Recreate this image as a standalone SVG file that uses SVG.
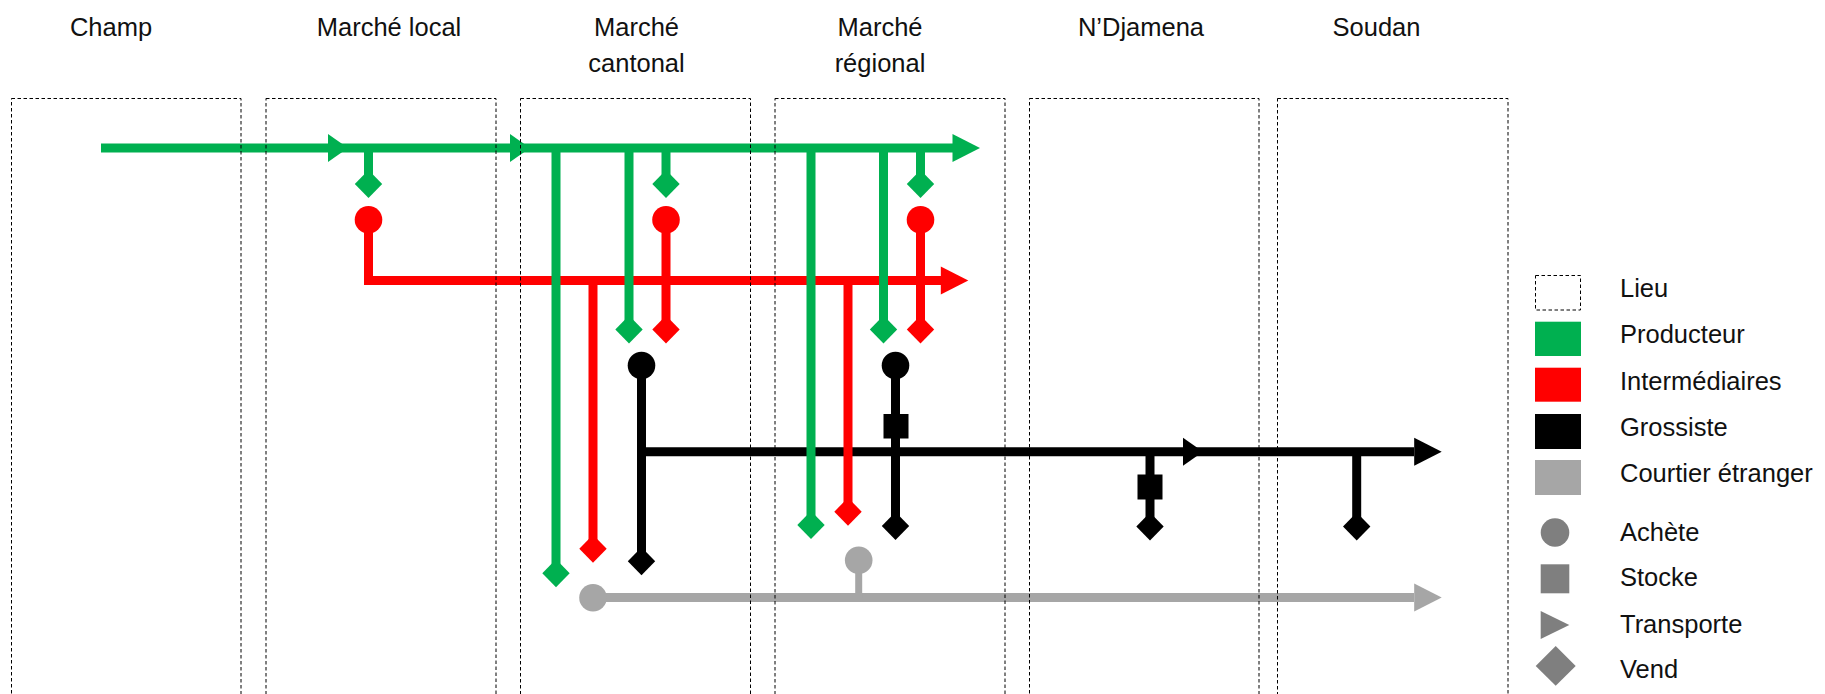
<svg xmlns="http://www.w3.org/2000/svg" xmlns:xlink="http://www.w3.org/1999/xlink" width="1825" height="694" viewBox="0 0 1825 694">
  <style>
    text { font-family: "Liberation Sans", Arial, sans-serif; font-size: 25.5px; fill: #111; }
    .hd { text-anchor: middle; }
    .box { fill: none; stroke: #000; stroke-width: 1; stroke-dasharray: 3.5 2.5; }
    .ln { fill: none; stroke-width: 9; stroke-linecap: butt; stroke-linejoin: miter; }
    .g { fill: #00b050; } .gs { stroke: #00b050; }
    .r { fill: #ff0000; } .rs { stroke: #ff0000; }
    .k { fill: #000000; } .ks { stroke: #000000; }
    .y { fill: #a6a6a6; } .ys { stroke: #a6a6a6; }
    .lg { fill: #7f7f7f; }
  </style>
  <defs>
    <path id="dia" d="M0,-14 L13.7,0 L0,14 L-13.7,0 Z"/>
    <path id="ahE" d="M0,0 L-27.5,-14 L-27.5,14 Z"/>
    <path id="ahM" d="M0,0 L-20,-14 L-20,14 Z"/>
    <circle id="buy" cx="0" cy="0" r="13.8"/>
  </defs>

  <g id="connectors">
    <g id="flux-courtier">
      <path class="ln ys" d="M593,597.5 H1414"/>
      <use xlink:href="#ahE" x="1441.7" y="597.5" class="y"/>
      <use xlink:href="#buy" x="593" y="597.8" class="y"/>
      <path class="ln ys" style="stroke-width:7" d="M858.7,560 V598"/>
      <use xlink:href="#buy" x="858.7" y="560.3" class="y"/>
    </g>
    <g id="flux-grossiste">
      <path class="ln ks" d="M641.5,366 V561"/>
      <path class="ln ks" d="M641.5,451.7 H1414"/>
      <use xlink:href="#buy" x="641.5" y="365.5" class="k"/>
      <use xlink:href="#dia" x="641.5" y="561.3" class="k"/>
      <use xlink:href="#ahM" x="1203" y="451.7" class="k"/>
      <use xlink:href="#ahE" x="1441.7" y="451.7" class="k"/>
      <path class="ln ks" d="M895.5,366 V526"/>
      <use xlink:href="#buy" x="895.5" y="365.5" class="k"/>
      <rect x="883.5" y="414" width="25" height="24.5" class="k"/>
      <use xlink:href="#dia" x="895.5" y="526" class="k"/>
      <path class="ln ks" d="M1150,451.7 V526.5"/>
      <rect x="1137.5" y="474.5" width="25" height="25" class="k"/>
      <use xlink:href="#dia" x="1150" y="526.5" class="k"/>
      <path class="ln ks" d="M1356.7,451.7 V526.5"/>
      <use xlink:href="#dia" x="1356.7" y="526.5" class="k"/>
    </g>
    <g id="flux-intermediaires">
      <path class="ln rs" d="M368.5,220 V280.5 H941"/>
      <use xlink:href="#buy" x="368.5" y="219.7" class="r"/>
      <use xlink:href="#ahE" x="968.3" y="280.5" class="r"/>
      <path class="ln rs" d="M593,280.5 V548.8"/>
      <use xlink:href="#dia" x="593" y="548.8" class="r"/>
      <path class="ln rs" d="M666,220 V329.5"/>
      <use xlink:href="#buy" x="666" y="219.7" class="r"/>
      <use xlink:href="#dia" x="666" y="329.5" class="r"/>
      <path class="ln rs" d="M848,280.5 V511.7"/>
      <use xlink:href="#dia" x="848" y="511.7" class="r"/>
      <path class="ln rs" d="M920.5,220 V329.5"/>
      <use xlink:href="#buy" x="920.5" y="219.7" class="r"/>
      <use xlink:href="#dia" x="920.5" y="329.5" class="r"/>
    </g>
    <g id="flux-producteur">
      <path class="ln gs" d="M101,148 H953"/>
      <use xlink:href="#ahM" x="348" y="148" class="g"/>
      <use xlink:href="#ahM" x="530" y="148" class="g"/>
      <use xlink:href="#ahE" x="980" y="148" class="g"/>
      <path class="ln gs" d="M368.5,148 V184"/>
      <use xlink:href="#dia" x="368.5" y="184" class="g"/>
      <path class="ln gs" d="M556,148 V573"/>
      <use xlink:href="#dia" x="556" y="573.3" class="g"/>
      <path class="ln gs" d="M629,148 V329.5"/>
      <use xlink:href="#dia" x="629" y="329.5" class="g"/>
      <path class="ln gs" d="M666,148 V184"/>
      <use xlink:href="#dia" x="666" y="184" class="g"/>
      <path class="ln gs" d="M811,148 V525"/>
      <use xlink:href="#dia" x="811" y="525" class="g"/>
      <path class="ln gs" d="M883.5,148 V329.5"/>
      <use xlink:href="#dia" x="883.5" y="329.5" class="g"/>
      <path class="ln gs" d="M920.5,148 V184"/>
      <use xlink:href="#dia" x="920.5" y="184" class="g"/>
    </g>
  </g>

  <g id="champ">
    <rect class="box" x="11.5" y="98.5" width="229.5" height="596"/>
    <text class="hd" x="111" y="36">Champ</text>
  </g>
  <g id="marche-local">
    <rect class="box" x="266" y="98.5" width="230" height="596"/>
    <text class="hd" x="389" y="36">Marché local</text>
  </g>
  <g id="marche-cantonal">
    <rect class="box" x="520.5" y="98.5" width="230" height="596"/>
    <text class="hd" x="636.5" y="36">Marché</text>
    <text class="hd" x="636.5" y="72">cantonal</text>
  </g>
  <g id="marche-regional">
    <rect class="box" x="775" y="98.5" width="230" height="596"/>
    <text class="hd" x="880" y="36">Marché</text>
    <text class="hd" x="880" y="72">régional</text>
  </g>
  <g id="ndjamena">
    <rect class="box" x="1029.5" y="98.5" width="229.5" height="596"/>
    <text class="hd" x="1141" y="36">N’Djamena</text>
  </g>
  <g id="soudan">
    <rect class="box" x="1277.5" y="98.5" width="230.5" height="596"/>
    <text class="hd" x="1376.5" y="36">Soudan</text>
  </g>

  <g id="legende">
    <g id="leg-lieu">
      <rect class="box" x="1535.5" y="275.5" width="45" height="34.5"/>
      <text x="1620" y="297">Lieu</text>
    </g>
    <g id="leg-producteur">
      <rect class="g" x="1535" y="321.7" width="46" height="34.3"/>
      <text x="1620" y="343">Producteur</text>
    </g>
    <g id="leg-intermediaires">
      <rect class="r" x="1535" y="367.7" width="46" height="34"/>
      <text x="1620" y="390">Intermédiaires</text>
    </g>
    <g id="leg-grossiste">
      <rect class="k" x="1535" y="414" width="46" height="35"/>
      <text x="1620" y="436">Grossiste</text>
    </g>
    <g id="leg-courtier">
      <rect class="y" x="1535" y="460" width="46" height="35"/>
      <text x="1620" y="481.7">Courtier étranger</text>
    </g>
    <g id="leg-achete">
      <circle class="lg" cx="1555" cy="532.5" r="14.3"/>
      <text x="1620" y="540.7">Achète</text>
    </g>
    <g id="leg-stocke">
      <rect class="lg" x="1540.7" y="564.3" width="28.6" height="29"/>
      <text x="1620" y="586">Stocke</text>
    </g>
    <g id="leg-transporte">
      <path class="lg" d="M1540.7,611 L1569.3,625 L1540.7,639 Z"/>
      <text x="1620" y="632.7">Transporte</text>
    </g>
    <g id="leg-vend">
      <path class="lg" d="M1555.7,646 L1575.7,666 L1555.7,685.7 L1535.7,666 Z"/>
      <text x="1620" y="678.3">Vend</text>
    </g>
  </g>
</svg>
